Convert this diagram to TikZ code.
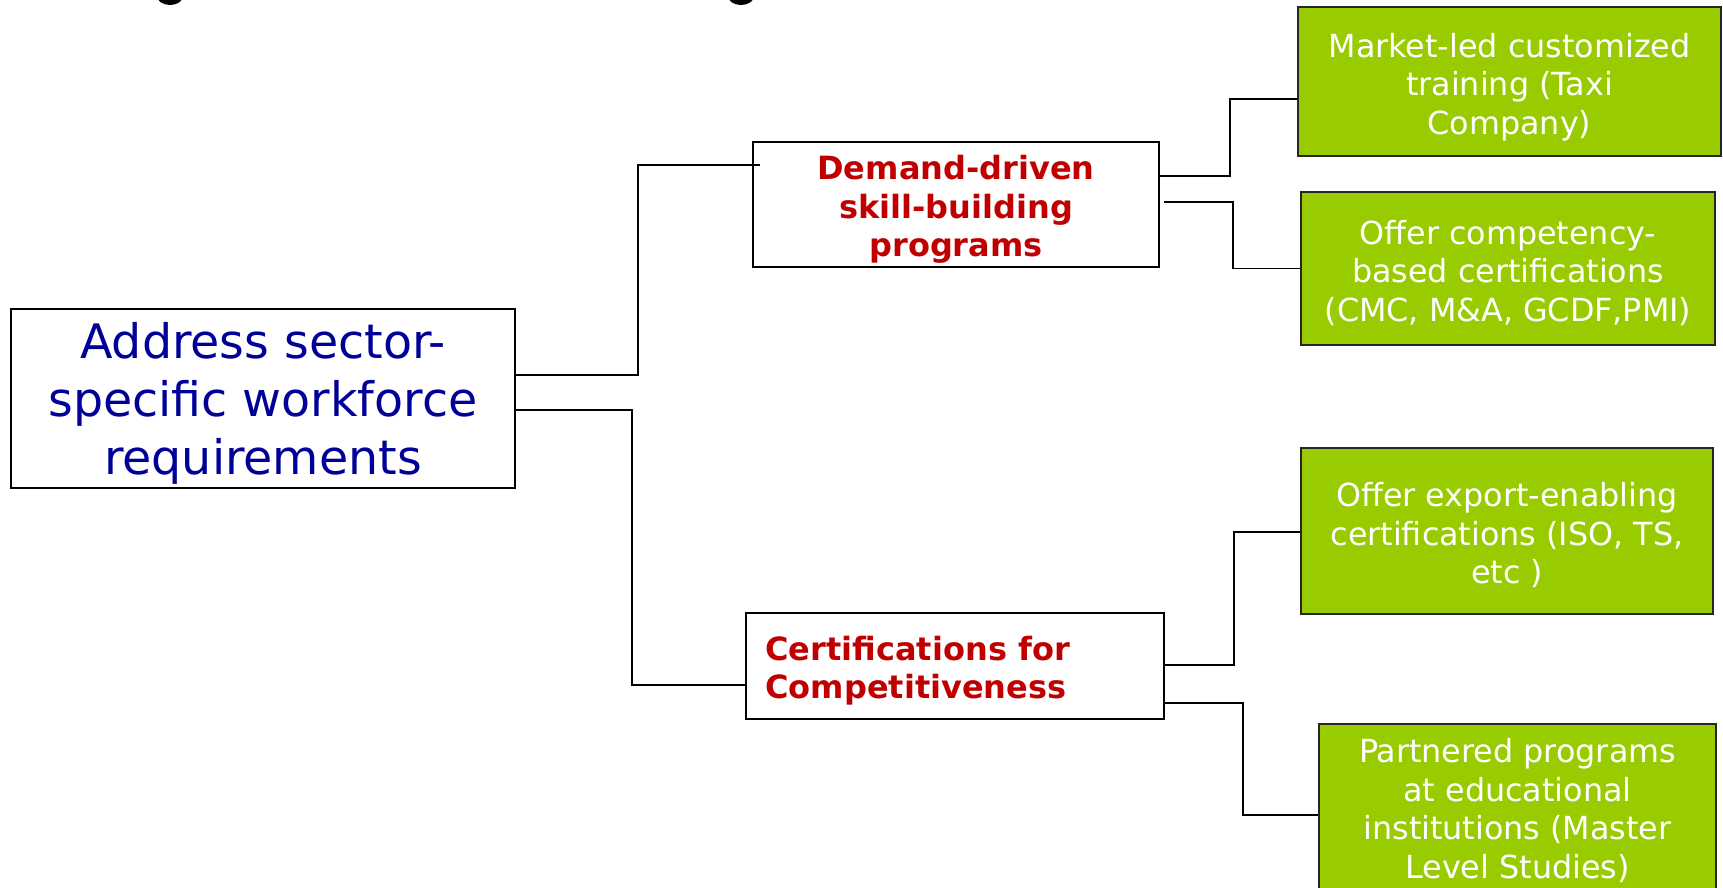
\documentclass[tikz,border=0pt]{standalone}
\usepackage{fontspec}
\setmainfont{DejaVu Sans}
\definecolor{mainblue}{HTML}{000099}
\definecolor{darkred}{HTML}{C00000}
\definecolor{leafgreen}{HTML}{99CC00}
\tikzset{
  box/.style={draw=black, line width=1.5pt, fill=white, inner sep=0pt, rectangle},
  leaf/.style={draw=black!85, line width=1.5pt, fill=leafgreen, inner sep=0pt, rectangle},
  leaftext/.style={inner sep=0pt, align=center, text=white, font=\fontsize{31.8}{38.5}\selectfont},
  midtext/.style={inner sep=0pt, text=darkred, font=\bfseries\fontsize{32}{38.5}\selectfont},
  conn/.style={draw=black, line width=1.5pt}
}
\begin{document}
\begin{tikzpicture}[x=1pt,y=-1pt]
\useasboundingbox (0,0) rectangle (1723,888);
\fill[white] (0,0) rectangle (1723,888);
% cut-off title remnants
\begin{scope}
\clip (0,0) rectangle (1723,888);
\fill (170,-4) ellipse (13 and 9);
\fill (741,-4) ellipse (13 and 9);
\end{scope}
% boxes
\node[box, minimum width=504, minimum height=179] (main) at (263,398.5) {};
\node[box, minimum width=406, minimum height=125] (demand) at (956,204.5) {};
\node[box, minimum width=418, minimum height=106] (cert) at (955,666) {};
\node[leaf, minimum width=423, minimum height=149] (g1) at (1509.5,81.5) {};
\node[leaf, minimum width=414, minimum height=153] (g2) at (1508,268.5) {};
\node[leaf, minimum width=412, minimum height=166] (g3) at (1507,531) {};
\node[leaf, minimum width=397, minimum height=169] (g4) at (1517.5,808.5) {};
% texts
\node[inner sep=0pt, align=center, text=mainblue, font=\fontsize{47.5}{58}\selectfont]
  (maintext) at ([yshift=-5pt]main.center) {Address sector-\\specific workforce\\requirements};
\node[midtext, align=center] (demandtext) at ([yshift=-5pt]demand.center)
  {Demand-driven\\skill-building\\programs};
\node[midtext, align=left, anchor=west] (certtext) at ([xshift=20pt,yshift=-4.5pt]cert.west)
  {Certifications for\\Competitiveness};
\node[leaftext] (g1text) at ([yshift=-5.5pt]g1.center) {Market-led customized\\training (Taxi\\Company)};
\node[leaftext] (g2text) at ([yshift=-4.5pt]g2.center) {Offer competency-\\based certifications\\(CMC, M\&A, GCDF,PMI)};
\node[leaftext] (g3text) at ([yshift=-4.5pt]g3.center) {Offer export-enabling\\certifications (ISO, TS,\\etc )};
\node[leaftext] (g4text) at ([yshift=-2pt]g4.center) {Partnered programs\\at educational\\institutions (Master\\Level Studies)};
% connectors
\draw[conn] ([yshift=23.5pt]main.east) -- ++(122,0) |- ([xshift=8pt,yshift=39.5pt]demand.west);
\draw[conn] ([yshift=-11.5pt]main.east) -- ++(116,0) |- ([yshift=-19pt]cert.west);
\draw[conn] ([yshift=28.5pt]demand.east) -- ++(70,0) |- ([yshift=-17.5pt]g1.west);
\draw[conn] ([xshift=4pt,yshift=2.5pt]demand.east) -- ++(69,0) |- (g2.west);
\draw[conn] ([yshift=1pt]cert.east) -- ++(69,0) |- ([yshift=-1pt]g3.west);
\draw[conn] ([yshift=-37pt]cert.east) -- ++(78,0) |- ([yshift=-6.5pt]g4.west);
\end{tikzpicture}
\end{document}
